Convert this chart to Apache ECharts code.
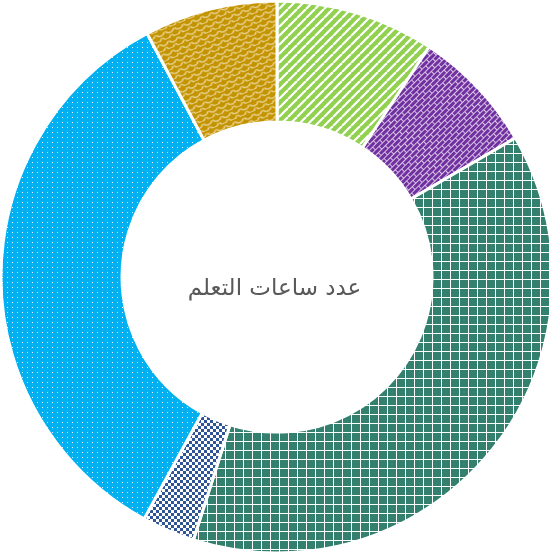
<!DOCTYPE html>
<html lang="ar">
<head>
    <meta charset="UTF-8">
    <title>عدد ساعات التعلم</title>
    <script src="https://cdn.jsdelivr.net/npm/echarts@6/dist/echarts.min.js"></script>
    <style>
        html, body { margin: 0; padding: 0; background: #fff; }
        #chart { width: 549px; height: 555px; }
    </style>
</head>
<body>
<div id="chart"></div>
<script>
    // 数据
    const categories = ['1', '2', '3', '4', '5', '6'];
    const hours = [9.3, 7.3, 38.3, 3.1, 34.2, 7.8];
    const centerTitle = 'عدد ساعات التعلم';

    // 图案填充
    function tile(w, h, draw) {
        const c = document.createElement('canvas');
        c.width = w; c.height = h;
        draw(c.getContext('2d'), w, h);
        return c;
    }

    const stripes = tile(9, 9, (g, w, h) => {
        g.fillStyle = '#92D050'; g.fillRect(0, 0, w, h);
        g.strokeStyle = '#fff'; g.lineWidth = 2.2;
        for (let x = -9; x <= 9; x += 9) {
            g.beginPath(); g.moveTo(x, h); g.lineTo(x + w, 0); g.stroke();
        }
    });

    const bricks = tile(10, 8, (g) => {
        g.fillStyle = '#d8c4e6'; g.fillRect(0, 0, 10, 8);
        g.fillStyle = '#7030A0';
        g.fillRect(0, 0, 9, 3);
        g.fillRect(5, 4, 9, 3);
        g.fillRect(-5, 4, 9, 3);
    });

    const grid = tile(9, 9, (g) => {
        g.fillStyle = '#34806E'; g.fillRect(0, 0, 9, 9);
        g.fillStyle = '#ffffff';
        g.fillRect(0, 0, 9, 1);
        g.fillRect(0, 0, 1, 9);
    });

    const checker = tile(6, 6, (g) => {
        g.fillStyle = '#ffffff'; g.fillRect(0, 0, 6, 6);
        g.fillStyle = '#2F5597';
        g.fillRect(0, 0, 3, 3);
        g.fillRect(3, 3, 3, 3);
    });

    const dots = tile(5, 5, (g) => {
        g.fillStyle = '#00B0F0'; g.fillRect(0, 0, 5, 5);
        g.fillStyle = '#e6f7fd';
        g.fillRect(2, 2, 1, 1);
    });

    const scales = tile(10, 10, (g) => {
        g.fillStyle = '#C49400'; g.fillRect(0, 0, 10, 10);
        g.strokeStyle = '#ecd9a0'; g.lineWidth = 1.3;
        g.beginPath(); g.arc(5, 0, 5, 0.15 * Math.PI, 0.85 * Math.PI); g.stroke();
        g.beginPath(); g.arc(0, 5, 5, 0.15 * Math.PI, 0.85 * Math.PI); g.stroke();
        g.beginPath(); g.arc(10, 5, 5, 0.15 * Math.PI, 0.85 * Math.PI); g.stroke();
    });

    const fills = [
        { image: stripes, repeat: 'repeat' },
        { image: bricks, repeat: 'repeat', rotation: -Math.PI / 4 },
        { image: grid, repeat: 'repeat' },
        { image: checker, repeat: 'repeat' },
        { image: dots, repeat: 'repeat' },
        { image: scales, repeat: 'repeat', rotation: -Math.PI / 8 }
    ];

    const chart = echarts.init(document.getElementById('chart'));
    chart.setOption({
        animation: false,
        title: {
            text: centerTitle,
            left: 'center',
            top: 273,
            textStyle: {
                fontFamily: 'DejaVu Sans, Noto Sans, sans-serif',
                fontSize: 23,
                fontWeight: 'normal',
                color: '#595959'
            }
        },
        series: [{
            type: 'pie',
            center: [277, 277],
            radius: [155, 276],
            startAngle: 90,
            clockwise: true,
            label: { show: false },
            labelLine: { show: false },
            emphasis: { disabled: true },
            itemStyle: { borderColor: '#fff', borderWidth: 3 },
            data: categories.map((c, i) => ({
                name: c,
                value: hours[i],
                itemStyle: { color: fills[i] }
            }))
        }]
    });
</script>
</body>
</html>
